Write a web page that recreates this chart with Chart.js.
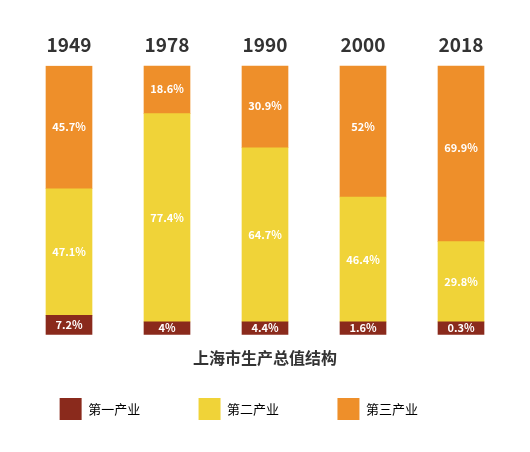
<!DOCTYPE html>
<html><head><meta charset="utf-8">
<script src="https://cdn.jsdelivr.net/npm/chart.js@4"></script>
<style>html,body{margin:0;padding:0;background:#fff}#w{width:530px;height:452px}</style>
</head><body><div id="w"><canvas id="c"></canvas></div>
<script>
const years = ['1949','1978','1990','2000','2018'];
const primary = [7.2, 4, 4.4, 1.6, 0.3];
const secondary = [47.1, 77.4, 64.7, 46.4, 29.8];
const tertiary = [45.7, 18.6, 30.9, 52, 69.9];
const seriesNames = ['第一产业','第二产业','第三产业'];
const colors = ['#8A2A1C','#F0D338','#EE8F2A'];
const font = '"Noto Sans CJK SC","Noto Sans",sans-serif';

const labelPlugin = {
  id:'lbl',
  afterDatasetsDraw(chart){
    const ctx = chart.ctx;
    ctx.save();
    ctx.fillStyle='#fff';
    ctx.font='bold 11px '+font;
    ctx.textAlign='center';ctx.textBaseline='middle';
    chart.data.datasets.forEach((ds,i)=>{
      chart.getDatasetMeta(i).data.forEach((bar,j)=>{
        const y=(bar.y+bar.base)/2;
        ctx.fillText(ds.data[j]+'%', bar.x, i===0 ? Math.min(y, bar.base-7) : y);
      });
    });
    ctx.restore();
  }
};

new Chart(document.getElementById('c'),{
  type:'bar',
  data:{labels:years,datasets:[
    {label:seriesNames[0],data:primary,backgroundColor:colors[0],minBarLength:13},
    {label:seriesNames[1],data:secondary,backgroundColor:colors[1]},
    {label:seriesNames[2],data:tertiary,backgroundColor:colors[2]}
  ]},
  options:{
    responsive:true,maintainAspectRatio:false,animation:false,
    layout:{padding:{left:20,right:20,top:31,bottom:22}},
    datasets:{bar:{barThickness:46}},
    scales:{
      x:{stacked:true,position:'top',grid:{display:false},border:{display:false},
         ticks:{color:'#333',font:{family:font,size:19,weight:'bold'},padding:2}},
      y:{stacked:true,display:false,min:0,max:100}
    },
    plugins:{
      tooltip:{enabled:false},
      title:{display:true,position:'bottom',text:'上海市生产总值结构',color:'#333',
        font:{family:font,size:16,weight:'bold'},padding:{top:14,bottom:24},weight:1},
      legend:{position:'bottom',weight:3000,
        labels:{boxWidth:22,boxHeight:22,padding:6,color:'#333',font:{family:font,size:13},
          generateLabels(chart){return seriesNames.map((n,i)=>({text:n+'                  ',fillStyle:colors[i],strokeStyle:colors[i],lineWidth:0,datasetIndex:i}));}}}
    }
  },
  plugins:[labelPlugin]
});
</script></body></html>
